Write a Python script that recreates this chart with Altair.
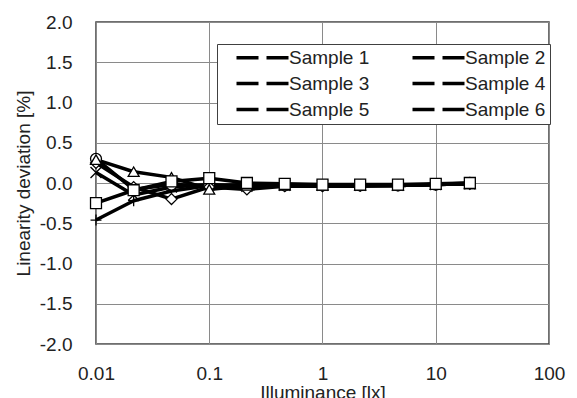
import altair as alt
import pandas as pd

# ---- data ----
illuminance = [0.01, 0.0215, 0.0464, 0.1, 0.215, 0.464, 1, 2.15, 4.64, 10, 20]
samples = ["Sample 1", "Sample 2", "Sample 3", "Sample 4", "Sample 5", "Sample 6"]
sample1 = [0.13, -0.15, -0.05, -0.02, -0.04, -0.03, -0.03, -0.03, -0.03, -0.02, -0.01]
sample2 = [-0.46, -0.22, -0.10, -0.03, -0.02, -0.04, -0.04, -0.04, -0.03, -0.02, -0.01]
sample3 = [0.30, -0.08, -0.02, -0.03, -0.04, -0.03, -0.03, -0.03, -0.03, -0.02, 0.00]
sample4 = [0.25, -0.05, -0.20, -0.05, -0.08, -0.04, -0.04, -0.03, -0.03, -0.02, -0.01]
sample5 = [0.29, 0.14, 0.07, -0.08, -0.03, -0.03, -0.03, -0.03, -0.03, -0.02, -0.01]
sample6 = [-0.25, -0.09, 0.02, 0.06, 0.00, -0.01, -0.02, -0.02, -0.02, -0.01, 0.00]
series = [sample1, sample2, sample3, sample4, sample5, sample6]

x_ticks = [0.01, 0.1, 1, 10, 100]
y_ticks = [-2.0, -1.5, -1.0, -0.5, 0.0, 0.5, 1.0, 1.5, 2.0]

# separate domains (trailing spaces) keep the three encodings from merging their legends
line_names = [s + " " for s in samples]
mark_names = [s + "  " for s in samples]

rows = []
for name, lname, mname, vals in zip(samples, line_names, mark_names, series):
    for i, (x, y) in enumerate(zip(illuminance, vals)):
        rows.append({"lux": x, "dev": y, "Sample": name, "SampleLine": lname,
                     "SampleMark": mname, "idx": i})
df = pd.DataFrame(rows)

FONT = "Liberation Sans"
plot_shapes = [
    "M-1,-1L1,1M-1,1L1,-1",   # x
    "M0,-1L0,1M-1,0L1,0",     # +
    "circle",
    "diamond",
    "triangle-up",
    "square",
]

# legend markers drawn as filled outlines (outer path + reversed inner path = ring)
HBAR = "M-1.1,-0.42L1.1,-0.42L1.1,0.42L-1.1,0.42Z"
legend_marks = [
    HBAR + "M-1,-0.82L-0.82,-1L1,0.82L0.82,1Z" + "M-1,0.82L0.82,-1L1,-0.82L-0.82,1Z",
    HBAR + "M-0.13,-1.2L0.13,-1.2L0.13,1.2L-0.13,1.2Z",
    "M-1,0A1,1 0 1,1 1,0A1,1 0 1,1 -1,0Z" + "M-0.72,0A0.72,0.72 0 1,0 0.72,0A0.72,0.72 0 1,0 -0.72,0Z",
    "M-1,0L0,-1L1,0L0,1Z" + "M-0.62,0L0,0.62L0.62,0L0,-0.62Z",
    "M0,-1.1L1,0.7L-1,0.7Z" + "M0,-0.55L-0.6,0.45L0.6,0.45Z",
    "M-1,-1L1,-1L1,1L-1,1Z" + "M-0.72,-0.72L-0.72,0.72L0.72,0.72L0.72,-0.72Z",
]
# legend line: thick stroke with a gap where the marker sits
LEG_LINE = "M-6.5,0L-1,0M1,0L6.5,0"

x_enc = alt.X("lux:Q", scale=alt.Scale(type="log", domain=[0.01, 100]),
              axis=alt.Axis(values=x_ticks, format="~g", title="Illuminance [lx]",
                            labelPadding=20, titlePadding=0, labelFlush=False))
y_enc = alt.Y("dev:Q", scale=alt.Scale(domain=[-2, 2]),
              axis=alt.Axis(values=y_ticks, title="Linearity deviation [%]",
                            labelExpr="replace(format(datum.value, '.1f'), '\u2212', '-')",
                            labelPadding=24, titlePadding=6, labelFlush=False))

layout = dict(orient="none", legendX=121, legendY=22, columns=2, direction="horizontal",
              title=None, symbolSize=64, symbolOffset=32, labelOffset=17,
              columnPadding=27, rowPadding=6, padding=4, labelFontSize=19,
              labelFont=FONT, labelLimit=200)

lines = alt.Chart(df).mark_line(strokeWidth=3.5, strokeJoin="round").encode(
    x=x_enc, y=y_enc,
    color=alt.Color("SampleLine:N", scale=alt.Scale(domain=line_names, range=["black"] * 6),
                    legend=alt.Legend(symbolType=LEG_LINE, symbolStrokeWidth=3.5,
                                      symbolStrokeColor="black", symbolFillColor="transparent",
                                      labelColor="#222", strokeColor="#404040",
                                      fillColor="white", zindex=0, **layout)),
    order="idx:Q",
)

points = alt.Chart(df).mark_point(filled=True, fill="white", stroke="black",
                                  strokeWidth=1.3, opacity=1, size=120).encode(
    x=x_enc, y=y_enc,
    shape=alt.Shape("SampleMark:N", scale=alt.Scale(domain=mark_names, range=plot_shapes),
                    legend=None),
)

# legend-only layer: no rows pass the filter, it only supplies the marker symbols
legend_layer = alt.Chart(df).transform_filter("datum.idx < 0").mark_point(
    filled=True, color="black", opacity=1, strokeWidth=0
).encode(
    x=x_enc, y=y_enc,
    shape=alt.Shape("Sample:N", scale=alt.Scale(domain=samples, range=legend_marks),
                    legend=alt.Legend(labelOpacity=0, symbolFillColor="black",
                                      symbolStrokeColor="black", symbolStrokeWidth=0,
                                      symbolOpacity=1, zindex=1, **layout)),
)

chart = alt.layer(lines, points, legend_layer).properties(
    width=453, height=322,
    autosize=alt.AutoSizeParams(type="none"),
    padding={"left": 96, "top": 22, "right": 28, "bottom": 54},
).configure_view(
    stroke="#404040", strokeWidth=1.5
).configure_axis(
    labelFont=FONT, titleFont=FONT, labelFontSize=19, titleFontSize=19,
    labelColor="#222", titleColor="#222", titleFontWeight="normal",
    grid=True, gridColor="#8a8a8a", gridWidth=1, domain=False, ticks=False,
)

chart.save("out.html", embed_options={"renderer": "svg", "actions": False})
